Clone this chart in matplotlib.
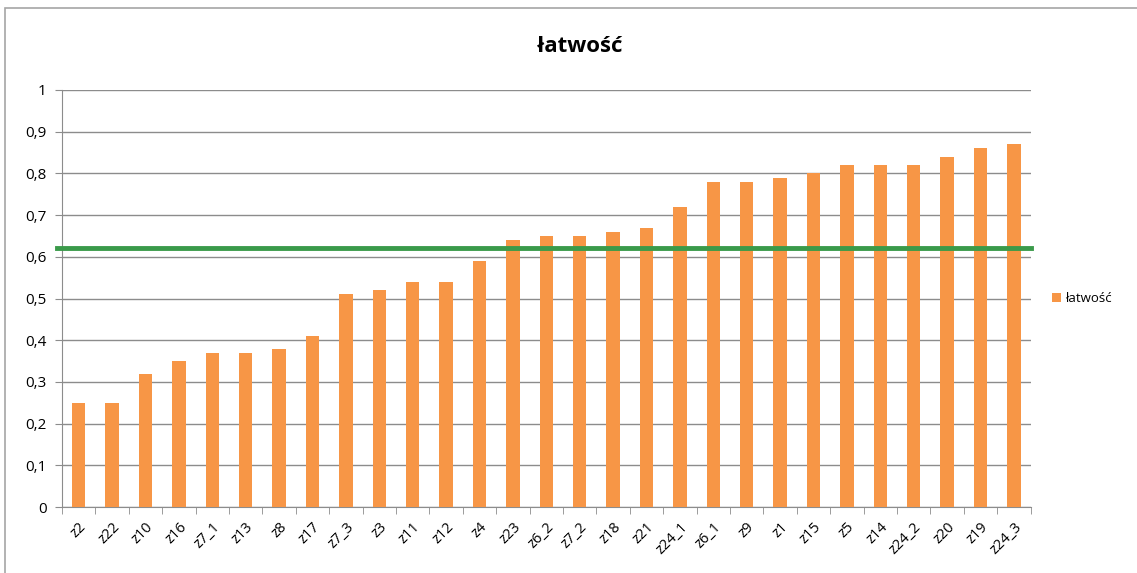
import matplotlib.pyplot as plt
from matplotlib.patches import Rectangle
from matplotlib.ticker import FixedLocator, FuncFormatter

plt.rcParams['font.family'] = ['Open Sans', 'DejaVu Sans']

# dane
categories = ['z2', 'z22', 'z10', 'z16', 'z7_1', 'z13', 'z8', 'z17', 'z7_3', 'z3',
              'z11', 'z12', 'z4', 'z23', 'z6_2', 'z7_2', 'z18', 'z21', 'z24_1', 'z6_1',
              'z9', 'z1', 'z15', 'z5', 'z14', 'z24_2', 'z20', 'z19', 'z24_3']
latwosc = [0.25, 0.25, 0.32, 0.35, 0.37, 0.37, 0.38, 0.41, 0.51, 0.52,
           0.54, 0.54, 0.59, 0.64, 0.65, 0.65, 0.66, 0.67, 0.72, 0.78,
           0.78, 0.79, 0.80, 0.82, 0.82, 0.82, 0.84, 0.86, 0.87]
threshold = 0.62

fig = plt.figure(figsize=(11.37, 5.73), dpi=100)
ax = fig.add_axes([0.0545, 0.115, 0.852, 0.728])

x = list(range(len(categories)))
ax.bar(x, latwosc, width=0.4, color='#F79646', label='łatwość', zorder=3)
ax.axhline(threshold, color='#3A9A4A', linewidth=3.5, zorder=4, xmin=-0.005, clip_on=False)

ax.set_xlim(-0.5, len(categories) - 0.5)
ax.set_ylim(0, 1)
ax.set_yticks([i / 10 for i in range(11)])
ax.yaxis.set_major_formatter(FuncFormatter(lambda v, p: ('%g' % round(v, 1)).replace('.', ',')))
ax.grid(axis='y', color='#8c8c8c', linewidth=1, zorder=0)

ax.set_xticks(x)
ax.set_xticklabels(categories, rotation=45, ha='right', rotation_mode='anchor', fontsize=10.5)
ax.tick_params(axis='x', which='major', length=0, pad=9)
ax.xaxis.set_minor_locator(FixedLocator([i - 0.5 for i in range(len(categories) + 1)]))
ax.tick_params(axis='x', which='minor', length=5, color='#8c8c8c')
ax.tick_params(axis='y', length=5, color='#8c8c8c', labelsize=11, pad=6)

for s in ['top', 'right']:
    ax.spines[s].set_visible(False)
for s in ['left', 'bottom']:
    ax.spines[s].set_color('#8c8c8c')

fig.text(0.51, 0.918, 'łatwość', ha='center', va='center', fontsize=16, fontweight='bold')

ax.legend(loc='center left', bbox_to_anchor=(1.01, 0.5), frameon=False,
          handlelength=0.7, handleheight=0.7, handletextpad=0.3, fontsize=9.5)

fig.patches.append(Rectangle((5 / 1137, -0.02), 1.1, 1 - 8 / 573 + 0.02, transform=fig.transFigure,
                             fill=False, edgecolor='#a6a6a6', linewidth=1.2))

fig.savefig('out.png', dpi=100)
